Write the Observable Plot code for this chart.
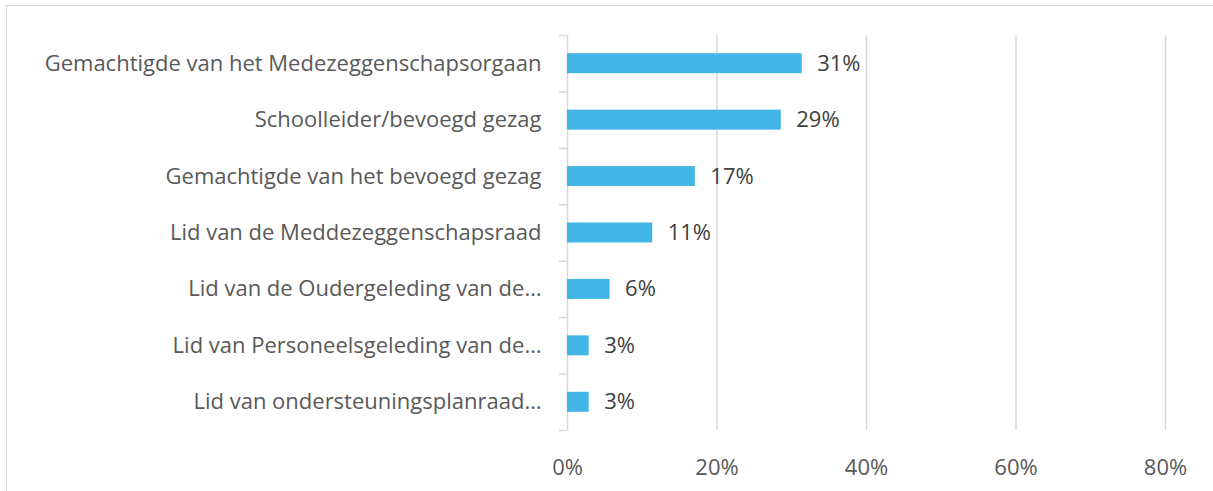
<!DOCTYPE html>
<html>
<head>
<meta charset="utf-8">
<script src="https://cdn.jsdelivr.net/npm/d3@7"></script>
<script src="https://cdn.jsdelivr.net/npm/@observablehq/plot@0.6"></script>
<style>
  html, body { margin: 0; padding: 0; background: #fff; }
  #wrap { position: relative; width: 1213px; height: 491px; overflow: hidden; }
  #frame { position: absolute; left: 6px; top: 5px; width: 1230px; height: 520px; border: 1.5px solid #d9d9d9; box-sizing: border-box; }
  #chart { position: absolute; left: 0; top: 0; }
</style>
</head>
<body>
<div id="wrap"><div id="frame"></div><div id="chart"></div></div>
<script>
const categories = [
  "Gemachtigde van het Medezeggenschapsorgaan",
  "Schoolleider/bevoegd gezag",
  "Gemachtigde van het bevoegd gezag",
  "Lid van de Meddezeggenschapsraad",
  "Lid van de Oudergeleding van de…",
  "Lid van Personeelsgeleding van de…",
  "Lid van ondersteuningsplanraad…"
];
const values = [31.4, 28.6, 17.1, 11.4, 5.7, 2.9, 2.9];
const xTicks = [0, 20, 40, 60, 80];

const data = categories.map((c, i) => ({c, i, v: values[i]}));
const font = "'Open Sans', 'Noto Sans', sans-serif";

const chart = Plot.plot({
  width: 1213,
  height: 491,
  marginLeft: 567,
  marginRight: 48,
  marginTop: 35,
  marginBottom: 61,
  x: {domain: [0, 80]},
  y: {domain: [0, categories.length], reverse: true},
  style: {fontFamily: font, fontSize: "22px", color: "#595959", background: "transparent"},
  marks: [
    Plot.ruleX(xTicks.slice(1), {y1: 0, y2: categories.length, stroke: "#d9d9d9", strokeWidth: 1.5}),
    Plot.ruleX([0], {y1: 0, y2: categories.length, stroke: "#d9d9d9", strokeWidth: 1.5}),
    Plot.axisY(d3.range(categories.length + 1), {tickSize: 8, stroke: "#d9d9d9", strokeWidth: 1.5, tickFormat: () => "", label: null}),
    Plot.axisY(categories.map((_, i) => i + 0.5), {tickSize: 0, tickPadding: 26, tickFormat: d => categories[Math.floor(d)], fill: "#595959", fontSize: 22, label: null}),
    Plot.rect(data, {x1: 0, x2: "v", y1: d => d.i + 0.5 - 0.177, y2: d => d.i + 0.5 + 0.177, fill: "#42b4e6"}),
    Plot.text(data, {x: "v", y: d => d.i + 0.5, text: d => Math.round(d.v) + "%", dx: 15, textAnchor: "start", fill: "#404040", fontSize: 22}),
    Plot.axisX(xTicks, {tickSize: 0, tickPadding: 29, tickFormat: d => d + "%", fill: "#595959", fontSize: 22, label: null})
  ]
});
document.getElementById("chart").appendChild(chart);
</script>
</body>
</html>
